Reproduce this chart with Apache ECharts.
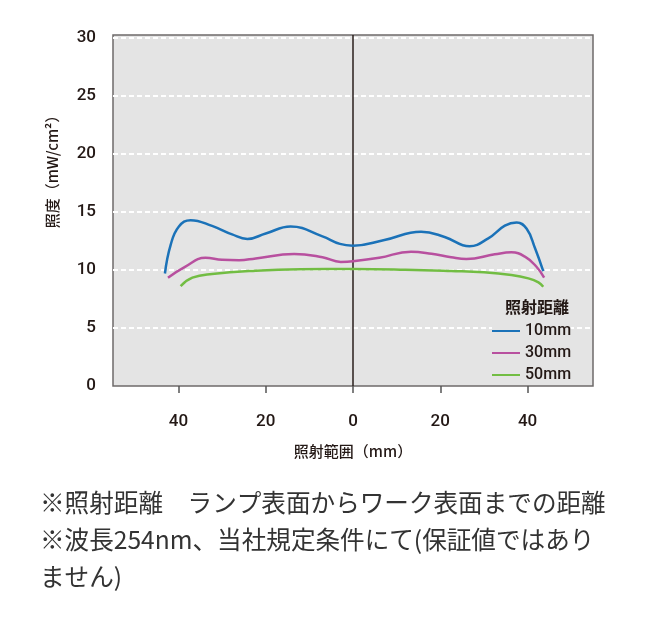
<!DOCTYPE html>
<html>
<head>
<meta charset="utf-8">
<script src="https://cdn.jsdelivr.net/npm/echarts@6/dist/echarts.min.js"></script>
<style>
html,body{margin:0;padding:0;background:#fff;}
#chart{width:652px;height:629px;}
</style>
</head>
<body>
<div id="chart"></div>
<script>
// ---- data (position in mm, irradiance in mW/cm2) ----
const seriesNames = ['10mm', '30mm', '50mm'];
const pos10 = [-43.1, -41.8, -39.9, -37.2, -32.3, -27.7, -24.2, -20, -14.3, -7, -3, 0, 7.2, 15.6, 21, 26.7, 31, 34.8, 37.5, 39.8, 41.7, 43.6];
const val10 = [9.7, 12.15, 13.75, 14.3, 13.8, 13.07, 12.68, 13.15, 13.75, 12.9, 12.25, 12.1, 12.59, 13.3, 12.85, 12.05, 12.73, 13.82, 14.1, 13.55, 11.9, 9.9];
const pos30 = [-42.4, -38.4, -33.8, -30, -26.1, -22.3, -13.5, -7, -2.8, 0, 6, 13.3, 18, 22.5, 26, 32.5, 36.3, 39.4, 42, 43.8];
const val30 = [9.34, 10.3, 11.06, 10.88, 10.84, 11.0, 11.38, 11.1, 10.7, 10.75, 11.05, 11.58, 11.4, 11.1, 10.95, 11.35, 11.52, 11.15, 10.3, 9.34];
const pos50 = [-39.5, -36.8, -32.3, -22.3, -12, 0, 12, 22.5, 30, 36.3, 40.2, 42.5, 43.6];
const val50 = [8.62, 9.34, 9.66, 9.94, 10.06, 10.08, 10.02, 9.91, 9.8, 9.57, 9.28, 8.94, 8.56];
const xTicks = [-40, -20, 0, 20, 40];
const yAxisTitle = '照度（mW/cm²）';
const xAxisTitle = '照射範囲（mm）';
const legendTitle = '照射距離';
const notes = [
  '※照射距離　ランプ表面からワーク表面までの距離',
  '※波長254nm、当社規定条件にて(保証値ではあり',
  'ません)'
];
const colors = ['#1b72b8', '#b8509f', '#72bd43'];

function pairs(xs, ys) { return xs.map((x, i) => [x, ys[i]]); }
const allData = [pairs(pos10, val10), pairs(pos30, val30), pairs(pos50, val50)];

const chart = echarts.init(document.getElementById('chart'));
const latin = 'Roboto, "Liberation Sans", "Noto Sans CJK JP", sans-serif';
const cjk = '"Noto Sans CJK JP", sans-serif';

const series = seriesNames.map((name, i) => ({
  name: name,
  type: 'line',
  smooth: 0.45,
  showSymbol: false,
  symbol: 'none',
  data: allData[i],
  lineStyle: { color: colors[i], width: 2.5 },
  itemStyle: { color: colors[i] },
  z: 3
}));
series[0].markLine = {
  silent: true,
  symbol: ['none', 'none'],
  label: { show: false },
  lineStyle: { color: '#2a1f1c', width: 1.5, type: 'solid' },
  data: [{ xAxis: 0 }],
  z: 2
};

chart.setOption({
  animation: false,
  grid: {
    left: 113, right: 59, top: 35, bottom: 243,
    show: true, backgroundColor: '#e4e4e4', borderColor: '#6e6a69', borderWidth: 1.5
  },
  xAxis: {
    type: 'value', min: -55, max: 55,
    axisLine: { show: false },
    splitLine: { show: false },
    axisTick: { show: true, length: 7, customValues: xTicks, lineStyle: { color: '#555', width: 1.5 } },
    axisLabel: {
      customValues: xTicks, margin: 27, fontSize: 17, fontWeight: 500, color: '#231815', fontFamily: latin,
      formatter: v => String(Math.abs(v))
    },
    name: xAxisTitle, nameLocation: 'middle', nameGap: 58,
    nameTextStyle: { fontSize: 15, fontWeight: 500, color: '#231815', fontFamily: cjk }
  },
  yAxis: {
    type: 'value', min: 0, max: 30.26, interval: 5,
    axisLine: { show: false },
    axisTick: { show: false },
    axisLabel: { margin: 17, fontSize: 17, fontWeight: 500, color: '#231815', fontFamily: latin, showMaxLabel: false },
    splitLine: { show: true, showMinLine: false, showMaxLine: false, lineStyle: { color: '#ffffff', width: 2, type: [5, 3] } }
  },
  legend: {
    data: seriesNames,
    orient: 'vertical',
    left: 492, top: 323,
    icon: 'rect', itemWidth: 28, itemHeight: 2, itemGap: 6,
    padding: 0,
    backgroundColor: '#e4e4e4',
    textStyle: { fontSize: 16, fontWeight: 500, color: '#231815', fontFamily: latin, lineHeight: 16, padding: [0, 0, 0, 0] }
  },
  graphic: [
    {
      type: 'text', x: 52, y: 168, rotation: Math.PI / 2,
      style: { text: yAxisTitle, fontSize: 15, fontWeight: 500, fill: '#231815', fontFamily: cjk, align: 'center', verticalAlign: 'middle' }
    },
    {
      type: 'text', x: 537, y: 307,
      style: { text: legendTitle, fontSize: 16, fontWeight: 'bold', fill: '#231815', fontFamily: cjk, align: 'center', verticalAlign: 'middle' }
    },
    ...notes.map((t, i) => ({
      type: 'text', x: 40, y: 503 + i * 37,
      style: { text: t, fontSize: 24.6, fill: '#333333', fontFamily: cjk, align: 'left', verticalAlign: 'middle' }
    }))
  ],
  series: series
});
</script>
</body>
</html>
